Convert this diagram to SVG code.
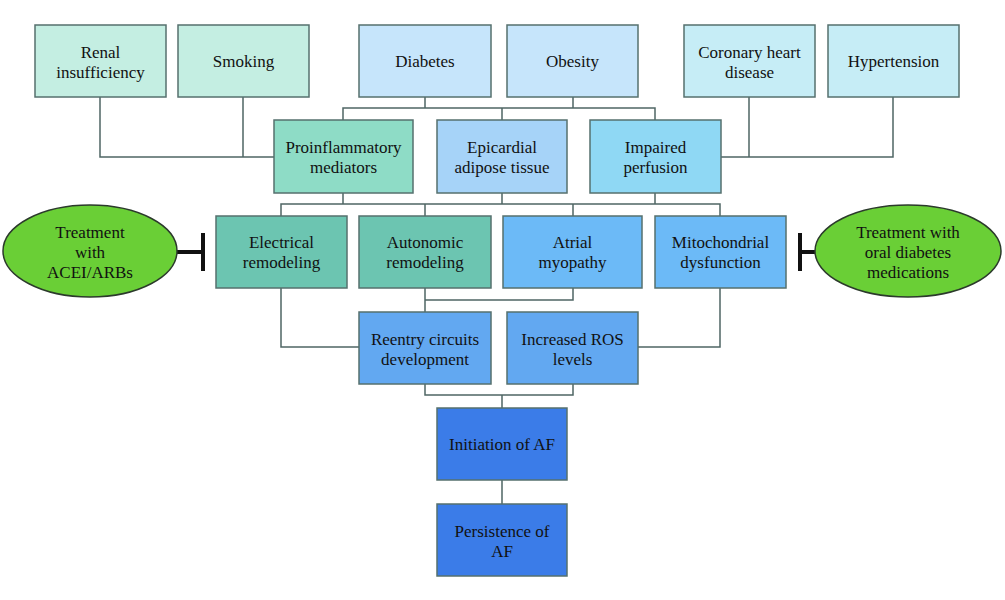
<svg xmlns="http://www.w3.org/2000/svg" width="1005" height="600" viewBox="0 0 1005 600">
<style>
.b{stroke:#56706e;stroke-width:1.5}
.c1{fill:#c4eee2}.c2{fill:#c6e5fb}.c3{fill:#c6edf6}
.p1{fill:#8edcc6}.p2{fill:#a6d3f8}.p3{fill:#8fd8f4}
.t1{fill:#6cc5b1}.t2{fill:#6cbaf7}
.r{fill:#62a8f1}.a{fill:#3b7ce8}
.e{fill:#6acf36;stroke:#2b3a2b;stroke-width:1.5}
text{font-family:"Liberation Serif","Times New Roman",serif;font-size:17px;fill:#111;text-anchor:middle}
.ln{fill:none;stroke:#4f6664;stroke-width:1.5}
.inh{fill:none;stroke:#111;stroke-width:4}
</style>
<rect width="1005" height="600" fill="#fff"/>
<g id="connectors">
<path class="ln" d="M425 97V108M573 97V108M343 120V108H655V120M502 108V120"/>
<path class="ln" d="M100 97V157H274M243 97V157"/>
<path class="ln" d="M749 97V157M893 97V157H721"/>
<path class="ln" d="M343 193V204M502 193V204M655 193V204M281 216V204H720V216M425 204V216M573 204V216"/>
<path class="ln" d="M425 288V312M425 300H573V288M281 288V347H359M720 288V347H638"/>
<path class="ln" d="M425 384V395H573V384M502 395V408M502 480V504"/>
<path class="inh" d="M177 252H203M203 233V271M815 252H800M800 233V271"/>
</g>
<g id="renal"><rect class="b c1" x="35" y="25" width="131" height="72"/><text x="100.5" y="58">Renal</text><text x="100.5" y="78">insufficiency</text></g>
<g id="smoking"><rect class="b c1" x="178" y="25" width="131" height="72"/><text x="243.5" y="67">Smoking</text></g>
<g id="diabetes"><rect class="b c2" x="359" y="25" width="132" height="72"/><text x="425" y="67">Diabetes</text></g>
<g id="obesity"><rect class="b c2" x="507" y="25" width="131" height="72"/><text x="572.5" y="67">Obesity</text></g>
<g id="coronary"><rect class="b c3" x="684" y="25" width="131" height="72"/><text x="749.5" y="58">Coronary heart</text><text x="749.5" y="78">disease</text></g>
<g id="hypertension"><rect class="b c3" x="828" y="25" width="131" height="72"/><text x="893.5" y="67">Hypertension</text></g>
<g id="proinflammatory"><rect class="b p1" x="274" y="120" width="139" height="73"/><text x="343.5" y="153">Proinflammatory</text><text x="343.5" y="173">mediators</text></g>
<g id="epicardial"><rect class="b p2" x="437" y="120" width="130" height="73"/><text x="502" y="153">Epicardial</text><text x="502" y="173">adipose tissue</text></g>
<g id="impaired"><rect class="b p3" x="590" y="120" width="131" height="73"/><text x="655.5" y="153">Impaired</text><text x="655.5" y="173">perfusion</text></g>
<g id="electrical"><rect class="b t1" x="216" y="216" width="131" height="72"/><text x="281.5" y="248">Electrical</text><text x="281.5" y="268">remodeling</text></g>
<g id="autonomic"><rect class="b t1" x="359" y="216" width="132" height="72"/><text x="425" y="248">Autonomic</text><text x="425" y="268">remodeling</text></g>
<g id="atrial"><rect class="b t2" x="503" y="216" width="139" height="72"/><text x="572.5" y="248">Atrial</text><text x="572.5" y="268">myopathy</text></g>
<g id="mitochondrial"><rect class="b t2" x="655" y="216" width="131" height="72"/><text x="720.5" y="248">Mitochondrial</text><text x="720.5" y="268">dysfunction</text></g>
<g id="reentry"><rect class="b r" x="359" y="312" width="132" height="72"/><text x="425" y="345">Reentry circuits</text><text x="425" y="365">development</text></g>
<g id="ros"><rect class="b r" x="507" y="312" width="131" height="72"/><text x="572.5" y="345">Increased ROS</text><text x="572.5" y="365">levels</text></g>
<g id="initiation"><rect class="b a" x="437" y="408" width="130" height="72"/><text x="502" y="450">Initiation of AF</text></g>
<g id="persistence"><rect class="b a" x="437" y="504" width="130" height="72"/><text x="502" y="537">Persistence of</text><text x="502" y="557">AF</text></g>
<g id="acei"><ellipse class="e" cx="90" cy="251" rx="87" ry="46"/><text x="90" y="238">Treatment</text><text x="90" y="258">with</text><text x="90" y="278">ACEI/ARBs</text></g>
<g id="oral"><ellipse class="e" cx="908" cy="251" rx="93" ry="46"/><text x="908" y="238">Treatment with</text><text x="908" y="258">oral diabetes</text><text x="908" y="278">medications</text></g>
</svg>
